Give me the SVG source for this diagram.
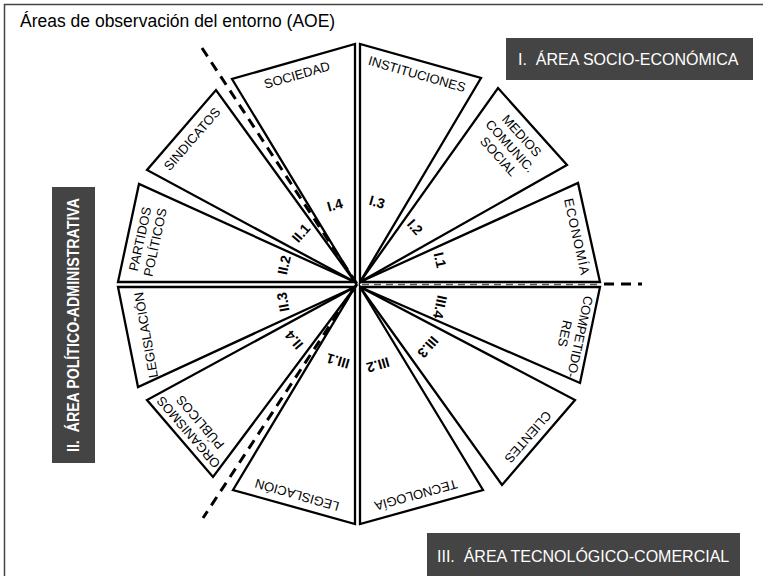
<svg xmlns="http://www.w3.org/2000/svg" width="763" height="576" viewBox="0 0 763 576">
<style>
.w{fill:#fff;stroke:#000;stroke-width:2.3;stroke-linejoin:miter}
.t{font-family:"Liberation Sans",Arial,sans-serif;font-size:13px;text-anchor:middle;fill:#000}
.n{font-family:"Liberation Sans",Arial,sans-serif;font-size:14px;font-weight:bold;text-anchor:middle;fill:#000}
.d{fill:none;stroke:#000;stroke-width:3;stroke-dasharray:10 7}
.box{fill:#444}
.bt{font-family:"Liberation Sans",Arial,sans-serif;font-size:16px;fill:#fff}
</style>
<rect width="763" height="576" fill="#fff"/>
<path d="M4.5 580 V4.5 H770" fill="none" stroke="#444" stroke-width="1.5"/>
<text x="20" y="27" font-family="Liberation Sans, Arial, sans-serif" font-size="17.5" fill="#000">Áreas de observación del entorno (AOE)</text>

<g id="area1">
<rect class="box" x="506" y="38" width="247" height="42"/>
<text class="bt" x="518" y="65">I.&#160; ÁREA SOCIO-ECONÓMICA</text>
</g>
<g id="area2">
<rect class="box" x="52" y="187" width="43" height="276"/>
<text class="bt" transform="translate(79,325) rotate(-90)" text-anchor="middle" font-size="13.5" font-weight="bold" textLength="254" lengthAdjust="spacingAndGlyphs">II.&#160; ÁREA POLÍTICO-ADMINISTRATIVA</text>
</g>
<g id="area3">
<rect class="box" x="427" y="533" width="313" height="50"/>
<text class="bt" x="437" y="562">III.&#160; ÁREA TECNOLÓGICO-COMERCIAL</text>
</g>

<g id="sociedad"><polygon class="w" points="355,282 232,79 355,44"/>
<text class="t" transform="translate(297,75) rotate(-16)" dy="0.35em">SOCIEDAD</text>
<text class="n" transform="translate(335,205) rotate(-16)" dy="0.35em">I.4</text></g>
<g id="instituciones"><polygon class="w" points="360,282 360,44 481,78"/>
<text class="t" transform="translate(417,74) rotate(16)" dy="0.35em">INSTITUCIONES</text>
<text class="n" transform="translate(377,202) rotate(16)" dy="0.35em">I.3</text></g>
<g id="medios"><polygon class="w" points="360,282 498,88 567,165"/>
<text class="t" transform="translate(521.7,135.7) rotate(48)" dy="0.35em"><tspan x="0">MEDIOS</tspan><tspan x="0" dy="15.5">COMUNIC.</tspan><tspan x="0" dy="15.5">SOCIAL</tspan></text>
<text class="n" transform="translate(415,227) rotate(48)" dy="0.35em">I.2</text></g>
<g id="economia"><polygon class="w" points="360,282 578,183 600,282"/>
<text class="t" transform="translate(577,237) rotate(77.5)" dy="0.35em" letter-spacing="1">ECONOMÍA</text>
<text class="n" transform="translate(440,260) rotate(77)" dy="0.35em">I.1</text></g>

<g id="competidores"><polygon class="w" points="360,287 600,287 580,383"/>
<text class="t" transform="translate(580,336.7) rotate(102)" dy="0.35em"><tspan x="0">COMPETIDO-</tspan><tspan x="0" dy="15.5">RES</tspan></text>
<text class="n" transform="translate(440,307) rotate(102)" dy="0.35em">III.4</text></g>
<g id="clientes"><polygon class="w" points="360,287 575,400 502,485"/>
<text class="t" transform="translate(528,437) rotate(131)" dy="0.35em">CLIENTES</text>
<text class="n" transform="translate(428,347) rotate(131)" dy="0.35em">III.3</text></g>
<g id="tecnologia"><polygon class="w" points="360,287 483,490 360,524"/>
<text class="t" transform="translate(416,495) rotate(164.5)" dy="0.35em">TECNOLOGÍA</text>
<text class="n" transform="translate(378,365) rotate(164)" dy="0.35em">III.2</text></g>
<g id="legislacion-b"><polygon class="w" points="355,287 355,524 233,490"/>
<text class="t" transform="translate(297,495) rotate(196)" dy="0.35em">LEGISLACIÓN</text>
<text class="n" transform="translate(338,361) rotate(196)" dy="0.35em">III.1</text></g>

<g id="organismos"><polygon class="w" points="355,287 213,477 147,400"/>
<text class="t" transform="translate(188.3,432.3) rotate(229.4)" dy="0.35em"><tspan x="0">ORGANISMOS</tspan><tspan x="0" dy="15.5">PÚBLICOS</tspan></text>
<text class="n" transform="translate(294,340) rotate(229)" dy="0.35em">II.4</text></g>
<g id="legislacion-l"><polygon class="w" points="355,287 138,387 118,287"/>
<text class="t" transform="translate(146,335) rotate(-100)" dy="0.35em">LEGISLACIÓN</text>
<text class="n" transform="translate(283,302) rotate(-100)" dy="0.35em">II.3</text></g>
<g id="partidos"><polygon class="w" points="355,282 118,282 139,184"/>
<text class="t" transform="translate(140,239) rotate(-77.8)" dy="0.35em"><tspan x="0">PARTIDOS</tspan><tspan x="0" dy="15.5">POLÍTICOS</tspan></text>
<text class="n" transform="translate(284,265) rotate(-77.5)" dy="0.35em">II.2</text></g>
<g id="sindicatos"><polygon class="w" points="355,282 147,170 216,90"/>
<text class="t" transform="translate(192,139) rotate(-49)" dy="0.35em">SINDICATOS</text>
<text class="n" transform="translate(301,233) rotate(-49)" dy="0.35em">II.1</text></g>

<g id="connectors">
<line class="d" x1="202" y1="48" x2="357" y2="284"/>
<line class="d" x1="357" y1="284" x2="203" y2="518"/>
<line x1="362" y1="284.5" x2="598" y2="284.5" stroke="#555" stroke-width="1.6" stroke-dasharray="7 5"/>
<line class="d" x1="604" y1="284" x2="642" y2="284" stroke-width="2.5" stroke-dasharray="11 9"/>
</g>
</svg>
